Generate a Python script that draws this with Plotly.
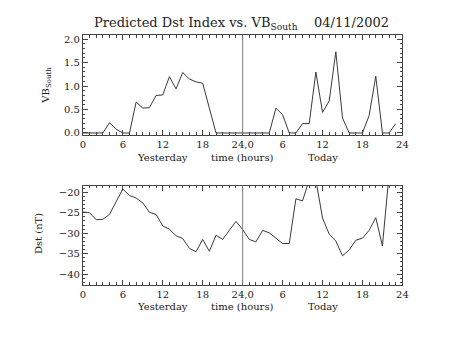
import plotly.graph_objects as go

hours = list(range(48))
vb_south = [0, 0, 0, 0, 0.22, 0.08, 0, 0, 0.66, 0.53, 0.54, 0.80, 0.81, 1.20, 0.94, 1.29,
            1.15, 1.09, 1.06, 0.54, 0, 0, 0, 0,
            0, 0, 0, 0, 0, 0.53, 0.39, 0, 0, 0.20, 0.20, 1.30, 0.44, 0.68, 1.73, 0.32,
            0, 0, 0, 0.37, 1.21, 0, 0, 0.20]
dst = [-24.8, -25.0, -26.7, -26.6, -25.4, -22.4, -19.2, -20.8, -21.4, -22.6, -24.9, -25.4,
       -28.2, -29.0, -30.6, -31.3, -33.7, -34.5, -31.5, -34.4, -30.5, -31.5, -29.3, -27.1,
       -29.1, -31.5, -32.1, -29.3, -29.9, -31.3, -32.5, -32.5, -21.6, -22.1, -17.0, -17.0,
       -26.3, -30.2, -31.9, -35.5, -34.1, -31.7, -31.2, -29.3, -26.2, -33.1, -15.5, -15.0]
tick_vals = [0, 6, 12, 18, 24, 30, 36, 42, 48]
tick_text = ['0', '6', '12', '18', '24,0', '6', '12', '18', '24']
day_labels = ['Yesterday', 'time (hours)', 'Today']
day_label_x = [12, 24, 36]

FONT = 'DejaVu Serif'
AX = '#444444'
LINE = '#3a3a3a'
TXT = '#222222'

fig = go.Figure()
fig.add_trace(go.Scatter(x=hours, y=vb_south, mode='lines', line=dict(color=LINE, width=1),
                         xaxis='x', yaxis='y', showlegend=False))
fig.add_trace(go.Scatter(x=hours, y=dst, mode='lines', line=dict(color=LINE, width=1),
                         xaxis='x2', yaxis='y2', showlegend=False))

xdom = [81.5 / 453, 407.5 / 453]
common_x = dict(range=[0, 48], tickvals=tick_vals, ticktext=tick_text, ticks='inside', ticklen=5,
                tickcolor=AX, showline=True, linecolor=AX, linewidth=1, mirror='allticks',
                showgrid=False, zeroline=False, domain=xdom,
                minor=dict(dtick=1, tick0=0, ticks='inside', ticklen=2.5, tickcolor=AX),
                tickfont=dict(family=FONT, size=10, color=TXT))
common_y = dict(ticks='inside', ticklen=5, tickcolor=AX, showline=True, linecolor=AX, linewidth=1,
                mirror='allticks', showgrid=False, zeroline=False,
                tickfont=dict(family=FONT, size=10, color=TXT))

fig.update_layout(
    width=453, height=340, margin=dict(l=0, r=0, t=0, b=0),
    paper_bgcolor='white', plot_bgcolor='white',
    xaxis=dict(**common_x, anchor='y'),
    yaxis=dict(**common_y, range=[-0.035, 2.08], domain=[205 / 340, 306 / 340], anchor='x',
               tickvals=[0, 0.5, 1.0, 1.5, 2.0], ticktext=['0.0', '0.5', '1.0', '1.5', '2.0'],
               minor=dict(dtick=0.1, tick0=0, ticks='inside', ticklen=2.5, tickcolor=AX)),
    xaxis2=dict(**common_x, anchor='y2'),
    yaxis2=dict(**common_y, range=[-42.6, -18.4], domain=[52 / 340, 153 / 340], anchor='x2',
                tickvals=[-40, -35, -30, -25, -20],
                minor=dict(dtick=1, tick0=0, ticks='inside', ticklen=2.5, tickcolor=AX)),
)

for xa, ya in [('x', 'y'), ('x2', 'y2')]:
    fig.add_shape(type='line', x0=24, x1=24, y0=0, y1=1, xref=xa, yref=ya + ' domain',
                  line=dict(color='#808080', width=1))

ann = []
for lab, lx in zip(day_labels, day_label_x):
    for ypix in [158, 310]:
        ann.append(dict(x=lx, xref='x', y=1 - ypix / 340, yref='paper', text=lab, showarrow=False,
                        font=dict(family=FONT, size=10, color=TXT), xanchor='center', yanchor='middle'))
ann.append(dict(x=243 / 453, y=1 - 22 / 340, xref='paper', yref='paper', showarrow=False,
                text='Predicted Dst Index vs. VB<sub>South</sub>    04/11/2002',
                font=dict(family=FONT, size=13, color=TXT), xanchor='center', yanchor='middle'))
ann.append(dict(x=44 / 453, y=1 - 85 / 340, xref='paper', yref='paper', showarrow=False,
                text='VB<sub>South</sub>', textangle=-90,
                font=dict(family=FONT, size=10, color=TXT), xanchor='center', yanchor='middle'))
ann.append(dict(x=37 / 453, y=1 - 236 / 340, xref='paper', yref='paper', showarrow=False,
                text='Dst (nT)', textangle=-90,
                font=dict(family=FONT, size=10, color=TXT), xanchor='center', yanchor='middle'))
fig.update_layout(annotations=ann)

fig.write_html('out.html')
